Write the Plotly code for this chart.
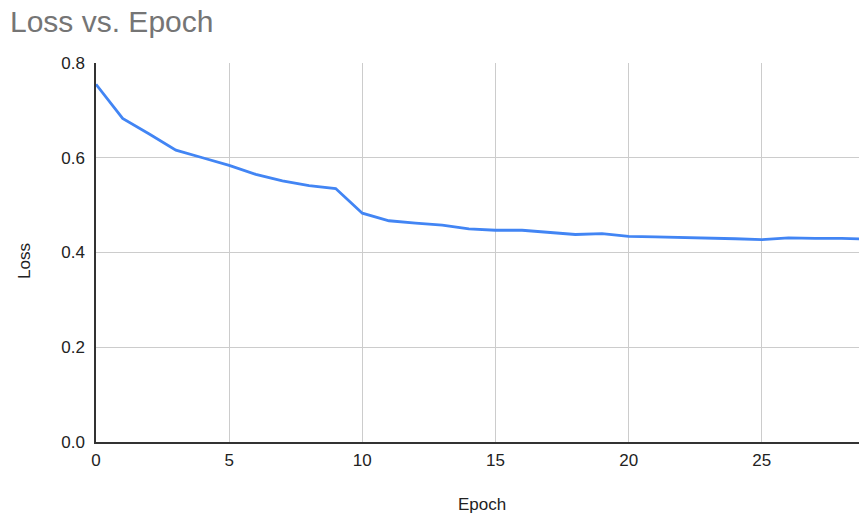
import plotly.graph_objects as go

epochs = list(range(0, 30))
loss = [0.755, 0.683, 0.650, 0.616, 0.600, 0.584, 0.565, 0.551, 0.541, 0.535,
        0.483, 0.467, 0.462, 0.458, 0.450, 0.447, 0.447, 0.442, 0.438, 0.440,
        0.434, 0.433, 0.432, 0.431, 0.429, 0.427, 0.431, 0.430, 0.430, 0.428]
y_ticks = [0.0, 0.2, 0.4, 0.6, 0.8]
x_ticks = [0, 5, 10, 15, 20, 25]

W, H = 859, 520
L, R, T, B = 96, 0, 63, 78
pw, ph = W - L - R, H - T - B

fig = go.Figure()
fig.add_trace(go.Scatter(x=epochs, y=loss, mode="lines",
                         line=dict(color="#4285F4", width=2.8), showlegend=False))

fig.update_layout(
    width=W, height=H,
    margin=dict(l=L, r=R, t=T, b=B),
    paper_bgcolor="white", plot_bgcolor="white",
    font=dict(family="Liberation Sans, Arial, sans-serif", size=17, color="#222222"),
    title=dict(text="Loss vs. Epoch", x=10 / W, xanchor="left", xref="container",
               y=1 - 21 / H, yanchor="middle",
               font=dict(size=30, color="#757575")),
    xaxis=dict(range=[0, 28.65], tickvals=x_ticks, showgrid=True, gridcolor="#cccccc",
               gridwidth=1, zeroline=False, showline=True, linecolor="#333333",
               linewidth=1.5, ticks="", ticklabelstandoff=2,
               tickfont=dict(size=17, color="#222222")),
    yaxis=dict(range=[0, 0.8], tickvals=y_ticks, tickformat=".1f", showgrid=True,
               gridcolor="#cccccc", gridwidth=1, zeroline=False,
               showline=True, linecolor="#333333", linewidth=1.5, ticks="",
               ticklabelstandoff=6, tickfont=dict(size=17, color="#222222")),
    annotations=[
        dict(text="Epoch", xref="paper", yref="paper",
             x=(482 - L) / pw, y=-(504 - (T + ph)) / ph,
             xanchor="center", yanchor="middle", showarrow=False,
             font=dict(size=17, color="#222222")),
        dict(text="Loss", xref="paper", yref="paper",
             x=(24 - L) / pw, y=1 - (261 - T) / ph, textangle=-90,
             xanchor="center", yanchor="middle", showarrow=False,
             font=dict(size=17, color="#222222")),
    ],
)

fig.write_html("out.html", config={"displayModeBar": False},
               post_script="document.body.style.margin='0';document.body.style.overflow='hidden';")
